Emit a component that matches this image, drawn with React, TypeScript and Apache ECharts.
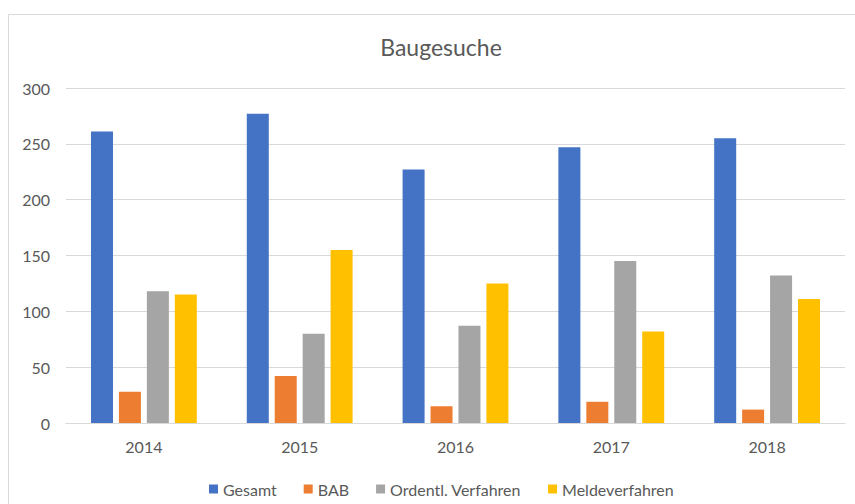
import React, { useEffect, useRef } from "react";
import * as echarts from "echarts";

const categories = ["2014", "2015", "2016", "2017", "2018"];
const gesamt = [261, 277, 227, 247, 255];
const bab = [28, 42, 15, 19, 12];
const ordentl = [118, 80, 87, 145, 132];
const melde = [115, 155, 125, 82, 111];
const seriesNames = ["Gesamt", "BAB", "Ordentl. Verfahren", "Meldeverfahren"];
const colors = ["#4472C4", "#ED7D31", "#A5A5A5", "#FFC000"];
const FONT = "Lato, 'Noto Sans', sans-serif";

export default function App() {
  const ref = useRef<HTMLDivElement>(null);
  useEffect(() => {
    if (!ref.current) return;
    const chart = echarts.init(ref.current, undefined, { renderer: "svg" });
    const data = [gesamt, bab, ordentl, melde];
    chart.setOption({
      animation: false,
      backgroundColor: "#ffffff",
      textStyle: { fontFamily: FONT },
      title: {
        text: "Baugesuche",
        left: 436,
        textAlign: "center",
        top: 30,
        textStyle: { fontFamily: FONT, fontSize: 23, fontWeight: "normal", color: "#595959" },
      },
      graphic: [
        {
          type: "rect",
          shape: { x: 8.5, y: 14.5, width: 900, height: 600 },
          style: { fill: "none", stroke: "#d9d9d9", lineWidth: 1 },
          silent: true,
        },
      ],
      legend: {
        data: seriesNames,
        left: 204,
        top: 476,
        itemWidth: 9,
        itemHeight: 9,
        itemGap: 27,
        icon: "rect",
        textStyle: { fontFamily: FONT, fontSize: 16, color: "#595959" },
      },
      grid: { left: 66, right: 10, top: 88, bottom: 81, containLabel: false },
      xAxis: {
        type: "category",
        data: categories,
        axisTick: { show: false },
        axisLine: { lineStyle: { color: "#d9d9d9", width: 1 } },
        axisLabel: { margin: 15, fontFamily: FONT, fontSize: 16, color: "#595959" },
      },
      yAxis: {
        type: "value",
        min: 0,
        max: 300,
        interval: 50,
        axisLine: { show: false },
        axisTick: { show: false },
        splitLine: { lineStyle: { color: "#d9d9d9", width: 1 } },
        axisLabel: { margin: 16, fontFamily: FONT, fontSize: 16, color: "#595959" },
      },
      series: seriesNames.map((name, i) => ({
        name,
        type: "bar",
        data: data[i],
        barWidth: 22,
        barGap: "27%",
        itemStyle: { color: colors[i] },
      })),
    });
    return () => chart.dispose();
  }, []);
  return (
    <div
      ref={ref}
      style={{ position: "absolute", left: 0, top: 0, width: 855, height: 504 }}
    />
  );
}
